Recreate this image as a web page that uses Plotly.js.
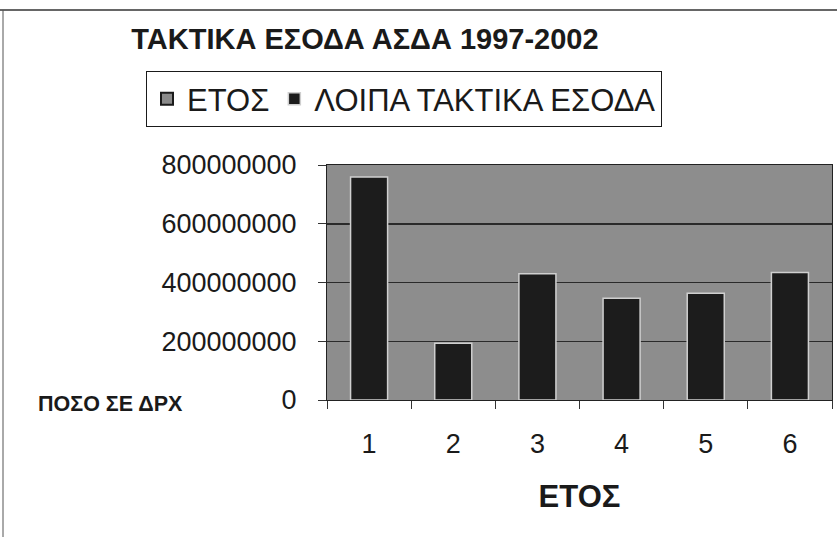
<!DOCTYPE html>
<html>
<head>
<meta charset="utf-8">
<script src="https://cdn.plot.ly/plotly-3.0.1.min.js"></script>
<style>html,body{margin:0;padding:0;background:#fff;}#chart{width:837px;height:537px;}</style>
</head>
<body>
<div id="chart"></div>
<script>
var categories = ["1", "2", "3", "4", "5", "6"];
var yearValues = [1997, 1998, 1999, 2000, 2001, 2002];
var otherRevenue = [759000000, 193000000, 430000000, 346000000, 363000000, 434000000];
var yTicks = [0, 200000000, 400000000, 600000000, 800000000];
var yTickLabels = ["0", "200000000", "400000000", "600000000", "800000000"];

var F = "Liberation Sans, Arial, sans-serif";

var traces = [
  {
    type: "bar", name: "ΕΤΟΣ", x: categories, y: yearValues,
    marker: {color: "#8a8a8a", line: {color: "#1a1a1a", width: 2}},
    hoverinfo: "skip"
  },
  {
    type: "bar", name: "ΛΟΙΠΑ ΤΑΚΤΙΚΑ ΕΣΟΔΑ", x: categories, y: otherRevenue,
    marker: {color: "#1c1c1c", line: {color: "#cfcfcf", width: 1.5}}
  }
];

var layout = {
  width: 837, height: 537,
  paper_bgcolor: "#ffffff",
  plot_bgcolor: "#8d8d8d",
  margin: {l: 327, r: 5, t: 165, b: 137},
  barmode: "overlay",
  bargap: 0.56,
  font: {family: F, color: "#1a1a1a", size: 27},
  title: {
    text: "<b>ΤΑΚΤΙΚΑ ΕΣΟΔΑ ΑΣΔΑ 1997-2002</b>",
    font: {family: F, size: 29, color: "#1a1a1a"},
    xref: "container", x: 0.436, xanchor: "center",
    yref: "container", y: 0.928, yanchor: "middle"
  },
  showlegend: true,
  legend: {
    orientation: "h",
    x: (146 - 327) / 505, xanchor: "left",
    y: (400 - 71) / 235, yanchor: "top",
    bgcolor: "#ffffff", bordercolor: "#1a1a1a", borderwidth: 1,
    font: {family: F, size: 31, color: "#1a1a1a"},
    itemwidth: 30, traceorder: "normal", tracegroupgap: 0
  },
  xaxis: {
    type: "category",
    tickson: "boundaries",
    ticks: "outside", ticklen: 8, tickcolor: "#333",
    ticklabelstandoff: 20,
    showline: true, mirror: true, linecolor: "#222", linewidth: 1,
    showgrid: false,
    tickfont: {family: F, size: 27, color: "#1a1a1a"},
    title: {text: "<b>ΕΤΟΣ</b>", font: {family: F, size: 31, color: "#1a1a1a"}, standoff: 26}
  },
  yaxis: {
    range: [0, 800000000],
    tickvals: yTicks, ticktext: yTickLabels,
    ticks: "outside", ticklen: 8, tickcolor: "#333",
    ticklabelstandoff: 16,
    showline: true, mirror: true, linecolor: "#222", linewidth: 1,
    showgrid: true, gridcolor: "#2a2a2a", gridwidth: 1.5,
    zeroline: false,
    tickfont: {family: F, size: 27, color: "#1a1a1a"}
  },
  annotations: [
    {
      text: "<b>ΠΟΣΟ ΣΕ ΔΡΧ</b>",
      xref: "paper", yref: "paper",
      x: (36 - 327) / 505, xanchor: "left",
      y: (400 - 404) / 235, yanchor: "middle",
      showarrow: false,
      font: {family: F, size: 21.5, color: "#1a1a1a"}
    }
  ],
  shapes: [
    {type: "line", xref: "paper", yref: "paper",
     x0: (0 - 327) / 505, x1: (837 - 327) / 505,
     y0: (400 - 10) / 235, y1: (400 - 10) / 235,
     line: {color: "#333", width: 1.5}},
    {type: "line", xref: "paper", yref: "paper",
     x0: (3 - 327) / 505, x1: (3 - 327) / 505,
     y0: (400 - 10) / 235, y1: (400 - 537) / 235,
     line: {color: "#555", width: 1}}
  ]
};

Plotly.newPlot("chart", traces, layout, {displayModeBar: false, staticPlot: true});
</script>
</body>
</html>
